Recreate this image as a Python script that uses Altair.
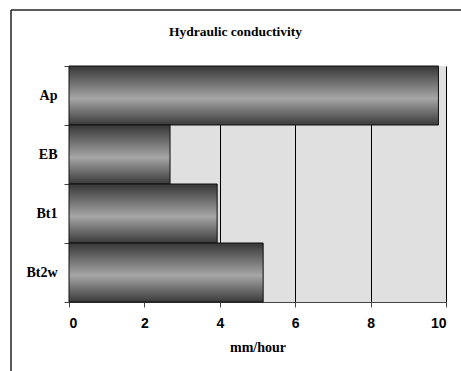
import altair as alt
import pandas as pd

horizons = ["Ap", "EB", "Bt1", "Bt2w"]
conductivity = [9.8, 2.68, 3.93, 5.15]
x_ticks = [0, 2, 4, 6, 8, 10]

df = pd.DataFrame({"horizon": horizons, "value": conductivity})

grad = alt.Gradient(
    gradient="linear",
    stops=[
        alt.GradientStop(color="#363636", offset=0),
        alt.GradientStop(color="#a6a6a6", offset=0.55),
        alt.GradientStop(color="#3a3a3a", offset=1),
    ],
    x1=0, x2=0, y1=0, y2=1,
)

bars = alt.Chart(df).mark_bar(fill=grad, stroke="#111111", strokeWidth=1).encode(
    x=alt.X("value:Q",
            scale=alt.Scale(domain=[0, 10], nice=False),
            axis=alt.Axis(values=x_ticks, title="mm/hour", grid=True,
                          gridColor="#000000", gridOpacity=1, gridWidth=1,
                          domainColor="#444444", tickColor="#444444", tickSize=5,
                          labelFont="Liberation Sans", labelFontSize=14,
                          labelFontWeight="bold", labelColor="#000000", labelPadding=9,
                          titleFont="Liberation Serif", titleFontSize=14,
                          titleFontWeight="bold", titleColor="#000000", titlePadding=10)),
    y=alt.Y("horizon:N", sort=horizons,
            scale=alt.Scale(paddingInner=0, paddingOuter=0),
            axis=alt.Axis(title=None, tickBand="extent", grid=False,
                          domainColor="#444444", tickColor="#444444", tickSize=5,
                          labelFont="Liberation Serif", labelFontSize=14,
                          labelFontWeight="bold", labelColor="#000000", labelPadding=7)),
)

frame_df = pd.DataFrame({"k": [0]})
left_line = alt.Chart(frame_df).mark_rule(color="#222222", strokeWidth=1.5, clip=False).encode(
    x=alt.value(-58), y=alt.value(-56), y2=alt.value(306))
top_line = alt.Chart(frame_df).mark_rule(color="#222222", strokeWidth=1.5, clip=False).encode(
    x=alt.value(-58), x2=alt.value(395), y=alt.value(-56))

chart = alt.layer(bars, left_line, top_line).properties(
    width=377, height=236,
    padding={"left": 69, "top": 66, "right": 15, "bottom": 69},
    autosize="none",
    background="#ffffff",
    title=alt.TitleParams("Hydraulic conductivity", font="Liberation Serif", fontSize=13.5,
                          fontWeight="bold", color="#000000", anchor="middle",
                          baseline="alphabetic", offset=-40, dx=-22),
).configure_view(fill="#e0e0e0", stroke=None)

chart.save("out.html", embed_options={"renderer": "svg", "actions": False})
